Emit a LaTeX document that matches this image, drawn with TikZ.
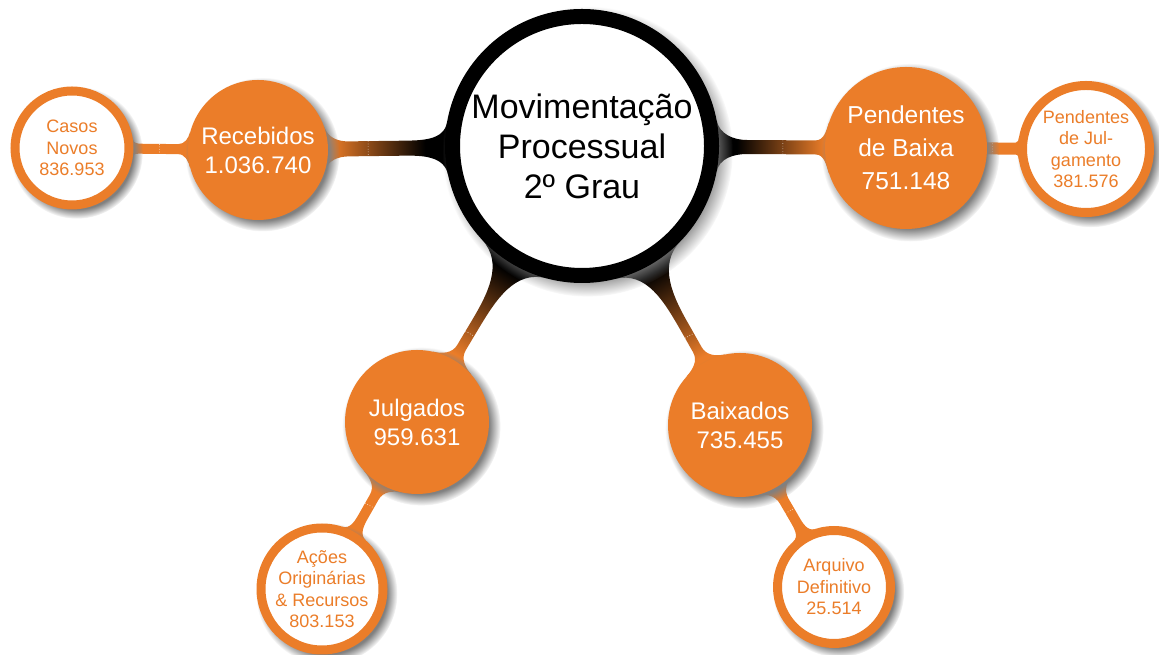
\documentclass[tikz,border=0pt]{standalone}
\usepackage{fontspec}
\setmainfont{Liberation Sans}
\usetikzlibrary{calc, shadows, fadings, backgrounds}
\definecolor{orng}{RGB}{235,125,41}
\pgfdeclareverticalshading{neckgrad}{100bp}{color(0bp)=(orng); color(27bp)=(orng); color(66bp)=(black); color(100bp)=(black)}
\tikzset {
    x=1pt, y=1pt,
    hub/.style={circle, draw=black, line width=15pt, fill=white, minimum size=259pt,
        inner sep=0pt, align=center, font=\fontsize{34}{40}\selectfont,
        circular drop shadow={shadow scale=1.12, shadow xshift=5pt, shadow yshift=-5pt}},
    topic/.style={circle, fill=orng, text=white, minimum size=#1, inner sep=0pt,
        align=center, font=\fontsize{24}{29}\selectfont,
        circular drop shadow={shadow scale=1.1, shadow xshift=4pt, shadow yshift=-4pt}},
    leaf/.style={circle, draw=orng, line width=9pt, fill=white, text=orng, minimum size=#1,
        inner sep=0pt, align=center, font=\fontsize{18}{21.5}\selectfont,
        circular drop shadow={shadow scale=1.16, shadow xshift=4pt, shadow yshift=-4pt}},
    grad/.style={shade, shading=neckgrad, shading angle=#1},
    plain neck/.style={fill=orng},
    seam/.style={white, line width=0.6pt, dotted}
}
% #1 style, #2 outer node, #3 inner node, #4 angle from #2 to #3,
% #5/#6 spread at #2/#3, #7/#8 ends of the neck, #9 half width
\newcommand{\neckfill}[9]{%
    \pgfmathtruncatemacro\aAp{mod(#4+#5+360,360)}%
    \pgfmathtruncatemacro\aAm{mod(#4-#5+360,360)}%
    \pgfmathtruncatemacro\aBp{mod(#4+180-#6+360,360)}%
    \pgfmathtruncatemacro\aBm{mod(#4+180+#6+360,360)}%
    \pgfmathtruncatemacro\oA{#4+#5-90}%
    \pgfmathtruncatemacro\iA{#4-#5+90}%
    \pgfmathtruncatemacro\oB{#4+#6+90}%
    \pgfmathtruncatemacro\iB{#4-#6-90}%
    \pgfmathtruncatemacro\dback{#4+180}%
    \path[#1] (#2.\aAp) to[out=\oA, in=\dback] ($(#2)!#7!(#3)!#9!90:(#3)$)
        -- ($(#2)!#8!(#3)!#9!90:(#3)$) to[out=#4, in=\iB] (#3.\aBp)
        -- (#3.\aBm) to[out=\oB, in=#4] ($(#2)!#8!(#3)!#9!-90:(#3)$)
        -- ($(#2)!#7!(#3)!#9!-90:(#3)$) to[out=\dback, in=\iA] (#2.\aAm) -- cycle;
}
\newcommand{\seamline}[4]{%
    \draw[seam] ($(#1)!#3!(#2)!#4!90:(#2)$) -- ($(#1)!#3!(#2)!#4!-90:(#2)$);
}

\begin{document}
\begin{tikzpicture}
    \useasboundingbox (0,0) rectangle (1159,655);

    \node[hub] (mov) at (582,509) {Movimentação\\Processual\\2º Grau};
    \node[topic=140pt] (rec) at (258,505) {Recebidos\\1.036.740};
    \node[topic=162pt, font=\fontsize{24.5}{33}\selectfont] (pba) at (906,507) {Pendentes\\de Baixa\\751.148};
    \node[topic=144pt] (jul) at (417,233) {Julgados\\959.631};
    \node[topic=144pt] (bai) at (740,230) {Baixados\\735.455};
    \node[leaf=114pt] (cas) at (72,507) {Casos\\Novos\\836.953};
    \node[leaf=127pt] (pju) at (1086,506) {Pendentes\\de Jul-\\gamento\\381.576};
    \node[leaf=122pt] (aco) at (322,66) {Ações\\Originárias\\\& Recursos\\803.153};
    \node[leaf=113pt] (arq) at (834,68) {Arquivo\\Definitivo\\25.514};

    \begin{pgfonlayer}{background}
        \neckfill{grad=-89}{rec}{mov}{1}{18}{11}{0.28}{0.45}{7.5pt}
        \neckfill{grad=90}{pba}{mov}{180}{18}{11}{0.28}{0.49}{7pt}
        \neckfill{grad=-31}{jul}{mov}{59}{18}{16}{0.27}{0.35}{5pt}
        \neckfill{grad=30}{bai}{mov}{120}{18}{16}{0.27}{0.35}{5pt}
        \neckfill{plain neck}{cas}{rec}{0}{8}{15}{0.37}{0.57}{5pt}
        \neckfill{plain neck}{pju}{pba}{180}{10}{14}{0.39}{0.56}{6pt}
        \neckfill{plain neck}{aco}{jul}{60}{12}{18}{0.44}{0.55}{5pt}
        \neckfill{plain neck}{arq}{bai}{120}{12}{18}{0.42}{0.53}{5pt}
        \seamline{rec}{mov}{0.34}{7.5pt}
        \seamline{pba}{mov}{0.38}{7pt}
        \seamline{jul}{mov}{0.32}{5pt}
        \seamline{bai}{mov}{0.32}{5pt}
        \seamline{cas}{rec}{0.47}{5pt}
        \seamline{pju}{pba}{0.52}{6pt}
        \seamline{aco}{jul}{0.5}{5pt}
        \seamline{arq}{bai}{0.47}{5pt}
    \end{pgfonlayer}
\end{tikzpicture}
\end{document}
